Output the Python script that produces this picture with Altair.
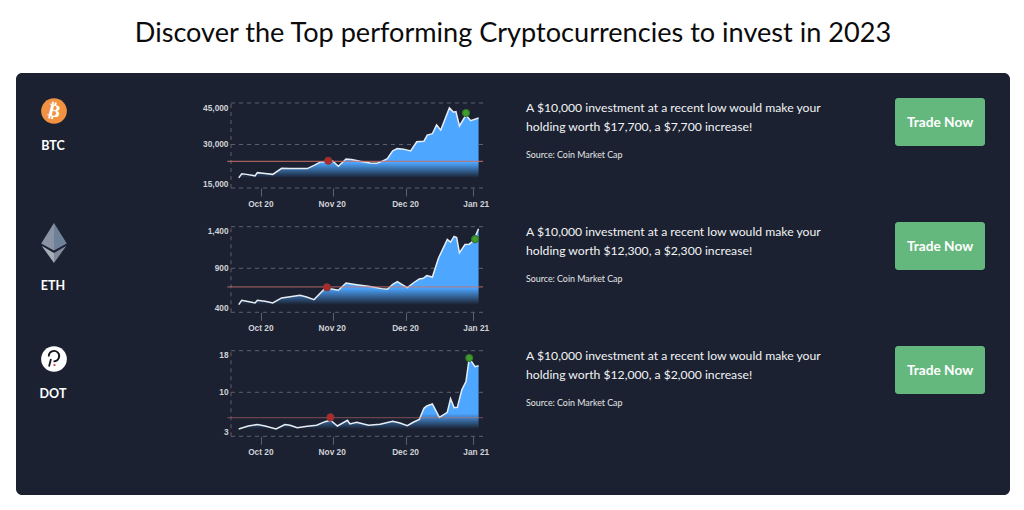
import altair as alt
import pandas as pd

TITLE = "Discover the Top performing Cryptocurrencies to invest in 2023"
SYMBOLS = ["BTC", "ETH", "DOT"]
LINE1 = "A $10,000 investment at a recent low would make your"
LINE2 = [
    "holding worth $17,700, a $7,700 increase!",
    "holding worth $12,300, a $2,300 increase!",
    "holding worth $12,000, a $2,000 increase!",
]
SOURCE = "Source: Coin Market Cap"
BUTTON = "Trade Now"

TICK_POS = [13, 43.6, 75, 103.6]
TICK_LABELS = ["Oct 20", "Nov 20", "Dec 20", "Jan 21"]

btc_t = [3.3,4.6,6.7,10.3,11.3,14.6,17.9,21.7,25.3,32.7,36,38.4,41.7,43.6,46,49.3,51.7,55.3,59.6,62.4,65.3,67,69.3,71.3,73.9,77,79.6,82.7,84.1,86.3,88.1,89.9,93.6,95.3,96.4,97.9,100.7,102.7,106.1]
btc_v = [18500,19900,19700,19200,20300,20000,19700,21800,21700,21700,23000,24000,24200,24300,22500,25000,24800,24200,23600,23500,24400,25100,27800,28600,28400,27800,31000,31200,33400,33900,37100,35200,43200,41700,41900,36700,40650,38600,39560]
eth_t = [3.3,4.6,6.7,10.3,11.3,14.6,17.9,21.7,25.3,29.6,32.4,35.6,40.3,43.1,46,49.3,53.9,59.6,64.6,67,69.3,71.3,73.9,75.6,78.1,80.7,82.4,83.9,86.3,88.9,92.7,94.1,95.6,96.7,97.9,100.3,102.1,103.9,106.1]
eth_v = [487,536,525,506,536,525,506,563,578,593,574,544,673,665,650,733,714,692,669,661,718,748,707,680,733,779,786,817,801,1021,1247,1214,1283,1271,1085,1186,1190,1230,1376]
dot_t = [3.3,7.4,11.3,14.6,19.3,23.1,25.3,28.4,32.7,36.7,40.3,42.7,45.6,49.9,51,53.9,58.9,63.9,69.3,72.4,75.6,78.1,80.7,82.7,83.9,86.3,89.3,92.7,94.1,95.6,97,98.9,100.7,102.1,104.6,106.1]
dot_v = [4.17,4.64,4.86,4.64,4.17,4.86,4.75,4.38,4.59,4.75,5.33,5.55,4.64,5.55,4.96,5.23,4.75,4.91,5.39,5.12,4.7,5.23,5.7,7.45,7.83,8.14,6.02,6.82,8.99,7.56,7.61,10.45,12.05,16.53,14.93,15.12]

TICKS = [[15000, 30000, 45000], [400, 900, 1400], [3, 10, 18]]
LOW = [(41.7, 24400), (41.1, 684), (42.6, 6.02)]
HIGH = [(100.7, 41400), (104.6, 1251), (102.1, 16.6)]
LEVEL = [24200, 688, 5.97]
LEVEL_OPACITY = [0.8, 0.7, 0.45]
SERIES = [(btc_t, btc_v), (eth_t, eth_v), (dot_t, dot_v)]

W, H = 1006, 492
PANEL = "#1b2130"
BLUE = "#4da6ff"
GRID = "#5b616d"
LABEL = "#cfd2d8"
FONT = "Lato"
AXFONT = "Liberation Sans"


def txt(s, x, y, size, weight="normal", color="white", align="left", font=FONT, angle=0):
    return alt.Chart(pd.DataFrame({"s": [s]})).mark_text(
        align=align, baseline="middle", fontSize=size, fontWeight=weight,
        color=color, font=font, angle=angle,
    ).encode(text="s:N", x=alt.value(x), y=alt.value(y))


def shape(path, x, y, size, fill):
    return alt.Chart(pd.DataFrame({"a": [0]})).mark_point(
        shape=path, filled=True, fill=fill, stroke=None, size=size, opacity=1,
    ).encode(x=alt.value(x), y=alt.value(y))


def mini(i, yrange):
    ts, vs = SERIES[i]
    ticks = TICKS[i]
    xs = alt.Scale(domain=[0, 108], range=[223, 475])
    ys = alt.Scale(domain=ticks, range=yrange, zero=False, nice=False)
    df = pd.DataFrame({"t": ts, "v": vs, "base": min(vs)})
    xa = alt.Axis(
        values=TICK_POS, title=None, orient="bottom", offset=yrange[0] - H, zindex=1,
        domain=False, grid=False, tickSize=8, tickColor=GRID, labelPadding=3,
        labelFont=AXFONT, labelFontSize=8.3, labelFontWeight="bold", labelColor=LABEL,
        labelOverlap=False, labelBound=False,
        labelExpr="datum.value < 20 ? '%s' : datum.value < 50 ? '%s' : datum.value < 90 ? '%s' : '%s'" % (
            TICK_LABELS[0], TICK_LABELS[1], TICK_LABELS[2], TICK_LABELS[3]),
        labelOffset=alt.ConditionalAxisNumber(condition={"test": "datum.value > 100", "value": 3}, value=-1),
    )
    ya = alt.Axis(
        values=ticks, title=None, orient="left", offset=-223, zindex=1, domain=False, grid=False,
        ticks=False, labelPadding=3, labelExpr="format(datum.value, ',')", labelFlush=True, labelFlushOffset=0,
        labelFont=AXFONT, labelFontSize=8.3, labelFontWeight="bold", labelColor=LABEL,
        labelOverlap=False, labelBound=False,
    )
    X = lambda: alt.X("t:Q", scale=xs, axis=None)
    Y = lambda: alt.Y("v:Q", scale=ys, axis=None)
    grid_df = pd.DataFrame({"v": ticks, "a": 0, "b": 108})
    grid = alt.Chart(grid_df).mark_rule(color=GRID, strokeDash=[4, 4], strokeWidth=1).encode(
        x=alt.X("a:Q", scale=xs, axis=xa), x2="b:Q", y=alt.Y("v:Q", scale=ys, axis=ya))
    left = alt.Chart(pd.DataFrame({"t": [0], "lo": [ticks[0]], "hi": [ticks[2]]})).mark_rule(
        color=GRID, strokeDash=[4, 4], strokeWidth=1).encode(
        x=X(), y=alt.Y("lo:Q", scale=ys, axis=None), y2="hi:Q")
    area = alt.Chart(df).mark_area(
        color=alt.Gradient(gradient="linear", x1=0, x2=0, y1=0, y2=1, stops=[
            alt.GradientStop(color=BLUE, offset=0),
            alt.GradientStop(color=BLUE, offset=0.78),
            alt.GradientStop(color=PANEL, offset=1),
        ]), opacity=1, interpolate="linear",
    ).encode(x=X(), y=Y(), y2="base:Q")
    line = alt.Chart(df).mark_line(color="#e6edf5", strokeWidth=1.5, interpolate="linear").encode(x=X(), y=Y())
    rule = alt.Chart(pd.DataFrame({"v": [LEVEL[i]], "a": [-1.6], "b": [108]})).mark_rule(
        color="#c9706c", strokeWidth=1.3, opacity=LEVEL_OPACITY[i]).encode(
        x=alt.X("a:Q", scale=xs, axis=None), x2="b:Q", y=Y())
    low = alt.Chart(pd.DataFrame({"t": [LOW[i][0]], "v": [LOW[i][1]]})).mark_point(
        filled=True, fill="#b02a2a", stroke="#8a3535", strokeWidth=1.2, opacity=1, size=48).encode(x=X(), y=Y())
    high = alt.Chart(pd.DataFrame({"t": [HIGH[i][0]], "v": [HIGH[i][1]]})).mark_point(
        filled=True, fill="#3f9e2b", stroke="#35752f", strokeWidth=1.2, opacity=1, size=48).encode(x=X(), y=Y())
    return [grid, left, area, line, rule, low, high]


panel = alt.Chart(pd.DataFrame({"a": [0]})).mark_rect(color=PANEL, cornerRadius=6).encode(
    x=alt.value(8), x2=alt.value(1002), y=alt.value(65), y2=alt.value(487))

layers = [panel, txt(TITLE, 505, 26, 27.1, align="center", color="#0b0b0b")]

# row text, buttons
ROW_TOP = [90, 214, 338]
LABEL_Y = [138, 278, 386]
for i in range(3):
    top = ROW_TOP[i]
    layers.append(txt(SYMBOLS[i], 45, LABEL_Y[i], 12.5, "bold", align="center"))
    layers.append(txt(LINE1, 518, top + 10.2, 12.2, color="#f2f3f5"))
    layers.append(txt(LINE2[i], 518, top + 29.2, 12.2, color="#f2f3f5"))
    layers.append(txt(SOURCE, 518, top + 57, 8.85, color="#e6e7ea"))
    layers.append(alt.Chart(pd.DataFrame({"a": [0]})).mark_rect(color="#65b87d", cornerRadius=3).encode(
        x=alt.value(887), x2=alt.value(977), y=alt.value(top), y2=alt.value(top + 48)))
    layers.append(txt(BUTTON, 932, top + 25, 13.7, "bold", align="center"))

# icons
layers.append(shape("circle", 46, 103, 660, "#f09242"))
layers.append(txt("\u20bf", 46, 103.5, 18, "bold", align="center", font="DejaVu Sans", angle=14))
UPPER_L = "M0,-1 L0,0.38 L-0.64,0.02 Z"
UPPER_R = "M0,-1 L0.64,0.02 L0,0.38 Z"
LOWER_L = "M0,0.5 L0,1 L-0.62,0.14 Z"
LOWER_R = "M0,0.5 L0.62,0.14 L0,1 Z"
layers.append(shape(UPPER_L, 46, 235, 1600, "#8a93a4"))
layers.append(shape(UPPER_R, 46, 235, 1600, "#6f8199"))
layers.append(shape(LOWER_L, 46, 235, 1600, "#a6adb9"))
layers.append(shape(LOWER_R, 46, 235, 1600, "#808a9b"))
layers.append(shape("circle", 46, 351, 660, "#ffffff"))
P_PATH = "M-0.52,-0.15 A0.52,0.52 0 1 1 -0.05,0.33 M-0.3,0.1 L-0.5,0.85"
layers.append(alt.Chart(pd.DataFrame({"a": [0]})).mark_point(
    shape=P_PATH, filled=False, stroke="#15151a", strokeWidth=1.8, size=400, opacity=1,
).encode(x=alt.value(46), y=alt.value(350)))
layers.append(shape("circle", 46.5, 357, 5, "#d33030"))

layers += mini(0, [180, 136.5, 95])
layers += mini(1, [304.3, 260.3, 218.7])
layers += mini(2, [428.3, 384.3, 342.7])

chart = alt.layer(*layers).resolve_scale(x="independent", y="independent").properties(
    width=W, height=H, padding=0, autosize=alt.AutoSizeParams(type="none"), background="white",
).configure_view(stroke=None)

chart.save("out.html", embed_options={"renderer": "svg", "actions": False})
